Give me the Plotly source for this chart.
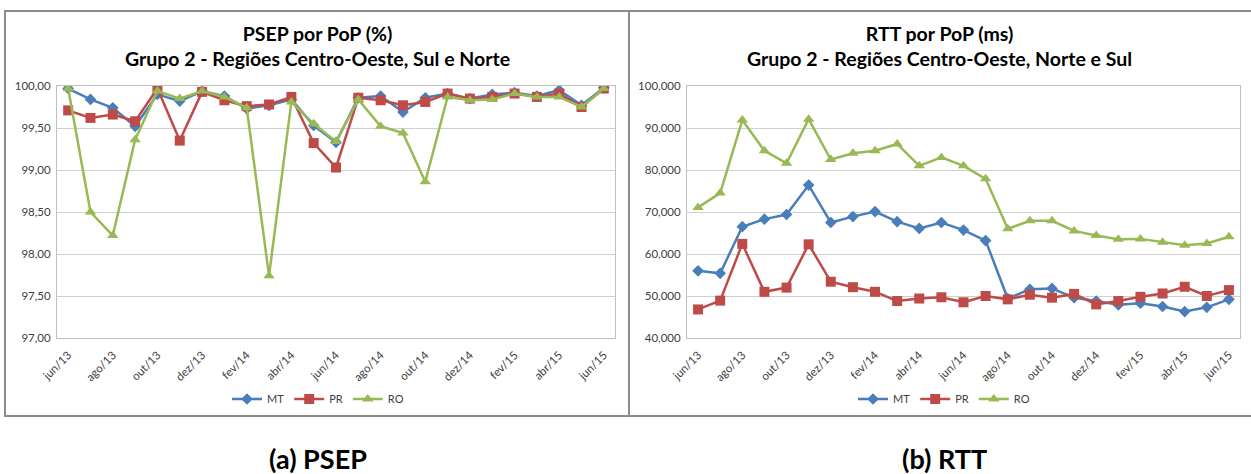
import plotly.graph_objects as go

months = ["jun/13","jul/13","ago/13","set/13","out/13","nov/13","dez/13","jan/14","fev/14","mar/14",
          "abr/14","mai/14","jun/14","jul/14","ago/14","set/14","out/14","nov/14","dez/14","jan/15",
          "fev/15","mar/15","abr/15","mai/15","jun/15"]
tick_months = months[::2]

psep_mt = [99.97, 99.84, 99.74, 99.52, 99.90, 99.82, 99.94, 99.88, 99.73, 99.77, 99.84, 99.53, 99.33,
           99.86, 99.88, 99.69, 99.86, 99.91, 99.85, 99.90, 99.92, 99.88, 99.95, 99.77, 99.98]
psep_pr = [99.71, 99.62, 99.66, 99.58, 99.97, 99.35, 99.93, 99.83, 99.76, 99.78, 99.87, 99.32, 99.03,
           99.86, 99.83, 99.77, 99.81, 99.91, 99.85, 99.87, 99.91, 99.87, 99.91, 99.75, 99.97]
psep_ro = [99.97, 98.50, 98.22, 99.36, 99.94, 99.85, 99.94, 99.87, 99.74, 97.74, 99.81, 99.55, 99.34,
           99.84, 99.52, 99.44, 98.86, 99.87, 99.83, 99.84, 99.91, 99.87, 99.87, 99.75, 99.97]

rtt_mt = [56.0, 55.4, 66.5, 68.3, 69.4, 76.4, 67.5, 68.9, 70.1, 67.7, 66.1, 67.5, 65.7,
          63.2, 49.4, 51.6, 51.8, 49.6, 48.8, 47.9, 48.3, 47.5, 46.3, 47.3, 49.2]
rtt_pr = [46.8, 48.9, 62.4, 51.0, 52.0, 62.3, 53.4, 52.1, 51.0, 48.8, 49.4, 49.7, 48.5,
          50.0, 49.2, 50.3, 49.6, 50.5, 48.0, 48.8, 49.8, 50.6, 52.2, 50.0, 51.4]
rtt_ro = [71.1, 74.5, 91.9, 84.6, 81.6, 92.1, 82.5, 84.0, 84.6, 86.2, 81.0, 83.0, 81.0,
          77.9, 66.0, 67.9, 67.9, 65.5, 64.4, 63.5, 63.6, 62.8, 62.1, 62.5, 64.1]

psep_ticks = [97.0, 97.5, 98.0, 98.5, 99.0, 99.5, 100.0]
psep_ticktext = ["97,00", "97,50", "98,00", "98,50", "99,00", "99,50", "100,00"]
rtt_ticks = [40, 50, 60, 70, 80, 90, 100]
rtt_ticktext = ["40,000", "50,000", "60,000", "70,000", "80,000", "90,000", "100,000"]

series_names = ["MT", "PR", "RO"]
colors = ["#4A7EBB", "#BE4B48", "#98B954"]
symbols = ["diamond", "square", "triangle-up"]
msizes = [9, 10, 10]

FONT = "Lato"
W, H = 1251, 474

fig = go.Figure()

for i, (name, vals) in enumerate(zip(series_names, [psep_mt, psep_pr, psep_ro])):
    fig.add_trace(go.Scatter(x=months, y=vals, name=name, mode="lines+markers",
                             line=dict(color=colors[i], width=2.5),
                             marker=dict(symbol=symbols[i], size=msizes[i], color=colors[i]),
                             xaxis="x", yaxis="y", legend="legend"))
for i, (name, vals) in enumerate(zip(series_names, [rtt_mt, rtt_pr, rtt_ro])):
    fig.add_trace(go.Scatter(x=months, y=vals, name=name, mode="lines+markers",
                             line=dict(color=colors[i], width=2.5),
                             marker=dict(symbol=symbols[i], size=msizes[i], color=colors[i]),
                             xaxis="x2", yaxis="y2", legend="legend2"))

ydom = [1 - 338 / H, 1 - 86 / H]
axis_common = dict(showline=True, linecolor="#BFBFBF", linewidth=1, mirror=True, automargin=False,
                   tickfont=dict(family=FONT, size=11.5, color="#404040"))
xcommon = dict(axis_common, type="category", range=[-0.5, 24.5], tickmode="array",
               tickvals=tick_months, ticktext=tick_months, tickangle=-45, showgrid=False,
               ticks="", categoryorder="array", categoryarray=months, ticklabelstandoff=5)
ycommon = dict(axis_common, showgrid=True, gridcolor="#D0D0D0", gridwidth=1, ticks="",
               zeroline=False, ticklabelstandoff=3)

fig.update_layout(
    width=W, height=H,
    margin=dict(l=0, r=0, t=0, b=0, autoexpand=False),
    paper_bgcolor="white", plot_bgcolor="white",
    font=dict(family=FONT, color="#404040"),
    xaxis=dict(xcommon, domain=[57 / W, 615 / W], anchor="y"),
    yaxis=dict(ycommon, domain=ydom, range=[97, 100], tickvals=psep_ticks,
               ticktext=psep_ticktext, anchor="x"),
    xaxis2=dict(xcommon, domain=[687 / W, 1240 / W], anchor="y2"),
    yaxis2=dict(ycommon, domain=ydom, range=[40, 100], tickvals=rtt_ticks,
                ticktext=rtt_ticktext, anchor="x2"),
    legend=dict(orientation="h", x=318 / W, xanchor="center", y=1 - 399 / H, yanchor="middle",
                font=dict(family=FONT, size=11, color="#404040"), bgcolor="rgba(0,0,0,0)",
                itemwidth=30),
    legend2=dict(orientation="h", x=944 / W, xanchor="center", y=1 - 399 / H, yanchor="middle",
                 font=dict(family=FONT, size=11, color="#404040"), bgcolor="rgba(0,0,0,0)",
                 itemwidth=30),
    showlegend=True,
)

# Panel borders
fig.add_shape(type="rect", xref="paper", yref="paper", x0=5 / W, x1=629 / W,
              y0=1 - 416 / H, y1=1 - 11 / H, line=dict(color="#8C8C8C", width=2))
fig.add_shape(type="rect", xref="paper", yref="paper", x0=629 / W, x1=1252 / W,
              y0=1 - 416 / H, y1=1 - 11 / H, line=dict(color="#8C8C8C", width=2))

# Titles
fig.add_annotation(xref="paper", yref="paper", x=317 / W, y=1 - 46 / H, xanchor="center",
                   yanchor="middle", showarrow=False, align="center",
                   text="<b>PSEP por PoP (%)</b><br><b>Grupo 2 - Regiões Centro-Oeste, Sul e Norte</b>",
                   font=dict(family=FONT, size=19.5, color="#000000"))
fig.add_annotation(xref="paper", yref="paper", x=940 / W, y=1 - 46 / H, xanchor="center",
                   yanchor="middle", showarrow=False, align="center",
                   text="<b>RTT por PoP (ms)</b><br><b>Grupo 2 - Regiões Centro-Oeste, Norte e Sul</b>",
                   font=dict(family=FONT, size=19.5, color="#000000"))

# Captions
fig.add_annotation(xref="paper", yref="paper", x=318 / W, y=1 - 458 / H, xanchor="center",
                   yanchor="middle", showarrow=False, text="<b>(a) PSEP</b>",
                   font=dict(family=FONT, size=27, color="#000000"))
fig.add_annotation(xref="paper", yref="paper", x=944 / W, y=1 - 458 / H, xanchor="center",
                   yanchor="middle", showarrow=False, text="<b>(b) RTT</b>",
                   font=dict(family=FONT, size=27, color="#000000"))

fig.write_html("out.html", config={"displayModeBar": False},
               post_script="document.body.style.margin='0';document.body.style.overflow='hidden';")
